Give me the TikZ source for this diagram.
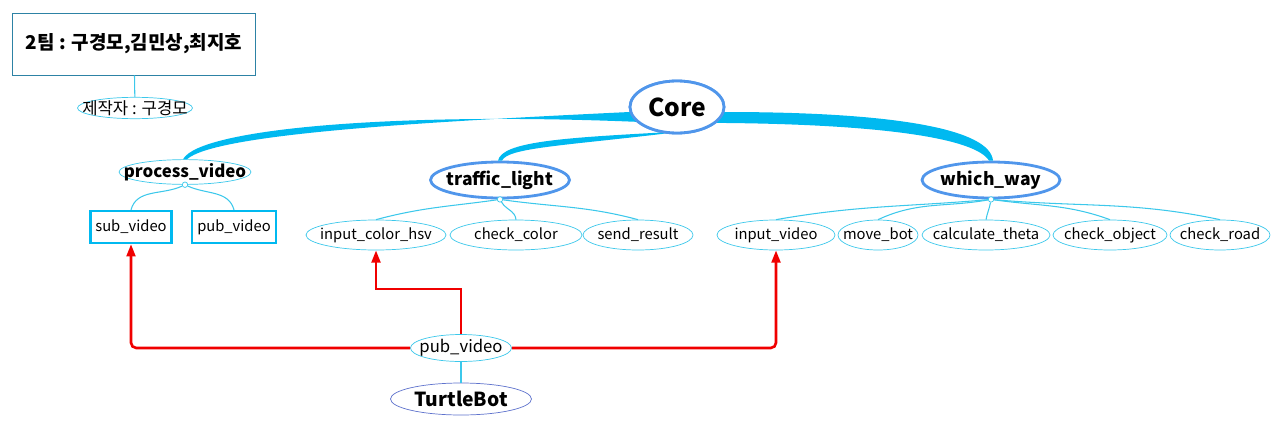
\documentclass[tikz,border=0pt]{standalone}
\usepackage{fontspec}
\setmainfont{Noto Sans CJK KR}
\usetikzlibrary{shapes.geometric,arrows.meta}
\definecolor{lnk}{RGB}{0,185,240}
\definecolor{lcyan}{RGB}{60,200,235}
\definecolor{hub}{RGB}{80,150,235}
\definecolor{bot}{RGB}{95,115,205}
\definecolor{team}{RGB}{45,130,165}
\definecolor{arr}{RGB}{240,0,0}
\begin{document}
\begin{tikzpicture}[x=0.02cm, y=-0.02cm]
   \tikzstyle{leaf} = [ellipse, draw=lcyan, fill=white, inner xsep=-12pt,
                       inner ysep=0pt, minimum height=0.6cm,
                       font=\fontsize{8.4}{10}\selectfont];
   \tikzstyle{hub1} = [ellipse, draw=hub, line width=1.6pt, fill=white,
                       inner xsep=-14pt, inner ysep=0pt, minimum height=0.72cm,
                       font=\fontsize{10}{12}\selectfont\bfseries];
   \tikzstyle{box}  = [rectangle, draw=lnk, line width=1.3pt, fill=white,
                       inner sep=0pt, minimum width=1.62cm, minimum height=0.64cm,
                       font=\fontsize{8.4}{10}\selectfont];
   \tikzstyle{knob} = [circle, draw=lcyan, fill=white, inner sep=1.1pt];
   \tikzstyle{gd}   = [lcyan, line width=0.6pt];
   \tikzstyle{rd}   = [arr, line width=1.5pt, rounded corners=3pt,
                       -{Triangle[length=7pt,width=5pt]}];

   \useasboundingbox (0,0) rectangle (1287,426);

    \node[rectangle, draw=team, minimum width=4.86cm, minimum height=1.24cm,
          font=\fontsize{10.8}{13}\selectfont\bfseries] (tm) at (134,44)
          {2팀 : 구경모,김민상,최지호};
    \node[leaf, minimum width=2.3cm, minimum height=0.42cm,
          font=\fontsize{9.5}{11}\selectfont] (mk) at (135,108)
          {제작자 : 구경모};

    \node[ellipse, draw=hub, line width=1.6pt, fill=white, inner sep=0pt,
          minimum width=1.88cm, minimum height=1.04cm,
          font=\fontsize{14}{17}\selectfont\bfseries] (core) at (677,107) {Core};

    \node[ellipse, draw=lcyan, fill=white, inner xsep=-14pt, inner ysep=0pt,
          minimum width=2.64cm, minimum height=0.48cm,
          font=\fontsize{9.6}{12}\selectfont\bfseries]
          (pv) at (185,172) {process\_video};
    \node[hub1, minimum width=2.78cm] (tl) at (500,180) {traffic\_light};
    \node[hub1, minimum width=2.76cm] (ww) at (991,180) {which\_way};

    \node[box] (sv) at (131,227) {sub\_video};
    \node[box, minimum width=1.68cm] (pb) at (234,227) {pub\_video};

    \node[leaf, minimum width=2.8cm] (ic) at (376,235) {input\_color\_hsv};
    \node[leaf, minimum width=2.64cm] (cc) at (516,235) {check\_color};
    \node[leaf, minimum width=2.2cm] (sr) at (638,235) {send\_result};

    \node[leaf, minimum width=2.36cm] (iv) at (776,235) {input\_video};
    \node[leaf, minimum width=1.6cm] (mb) at (878,235) {move\_bot};
    \node[leaf, minimum width=2.56cm] (ct) at (986,235) {calculate\_theta};
    \node[leaf, minimum width=2.28cm] (co) at (1110,235) {check\_object};
    \node[leaf, minimum width=2.0cm] (cr) at (1220,235) {check\_road};

    \node[leaf, minimum width=2.02cm, minimum height=0.54cm,
          font=\fontsize{9.5}{11}\selectfont] (pv2) at (461,348) {pub\_video};
    \node[ellipse, draw=bot, fill=white, inner xsep=-12pt, inner ysep=0pt,
          minimum width=2.82cm, minimum height=0.64cm,
          font=\fontsize{11}{13}\selectfont\bfseries]
          (tb) at (461,399) {TurtleBot};

    % thick links out of the core
    \fill[lnk] (core.200) .. controls (400,112) and (200,128) .. ([xshift=-0.04cm]pv.north)
       -- ([xshift=0.04cm]pv.north) .. controls (215,134) and (420,122) .. (core.186)
       -- cycle;
    \fill[lnk] (core.236) .. controls (560,138) and (502,142) .. ([xshift=-0.04cm]tl.north)
       -- ([xshift=0.04cm]tl.north) .. controls (508,148) and (560,146) .. (core.246)
       -- cycle;
    \fill[lnk] (core.354) .. controls (900,112) and (990,130) .. ([xshift=0.04cm]ww.north)
       -- ([xshift=-0.04cm]ww.north) .. controls (975,138) and (880,124) .. (core.338)
       -- cycle;
    \node[ellipse, draw=hub, line width=1.6pt, fill=white, inner sep=0pt,
          minimum width=1.88cm, minimum height=1.04cm,
          font=\fontsize{14}{17}\selectfont\bfseries] at (core) {Core};

    \node[knob] (k1) at (pv.south) {};
    \node[knob] (k2) at (tl.south) {};
    \node[knob] (k3) at (ww.south) {};

    \path[gd] (tm) edge (mk);
    \path[gd] (pv2) edge (tb);

    \path[gd] (k1) edge [out=205, in=75] (sv.north);
    \path[gd] (k1) edge [out=-25, in=105] (pb.north);

    \path[gd] (k2) edge [out=188, in=15] (ic.north);
    \path[gd] (k2) edge [out=-60, in=95] (cc.north);
    \path[gd] (k2) edge [out=-8, in=165] (sr.north);

    \path[gd] (k3) edge [out=185, in=10] (iv.north);
    \path[gd] (k3) edge [out=190, in=25] (mb.north);
    \path[gd] (k3) edge [out=-100, in=80] (ct.north);
    \path[gd] (k3) edge [out=-8, in=160] (co.north);
    \path[gd] (k3) edge [out=-5, in=168] (cr.north);

    % red video feeds
    \draw[rd] (pv2.west) -| (sv.south);
    \draw[rd, rounded corners=0pt] (pv2.north) -- ++(0,-45) -| (ic.south);
    \draw[rd] (pv2.east) -| (iv.south);

  \end{tikzpicture}
\end{document}
